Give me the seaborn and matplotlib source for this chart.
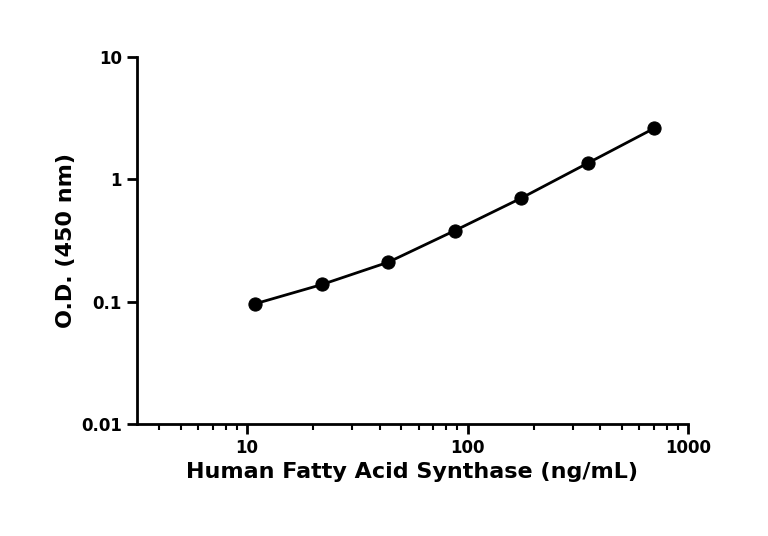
import matplotlib
matplotlib.use("Agg")
import matplotlib.pyplot as plt
import matplotlib.ticker as mticker
import seaborn as sns
import pandas as pd

# standard curve data
conc = [10.9, 21.9, 43.75, 87.5, 175, 350, 700]
od = [0.096, 0.138, 0.21, 0.38, 0.70, 1.35, 2.6]
df = pd.DataFrame({"conc": conc, "od": od})

sns.set_theme(style="ticks")
plt.rcParams["font.family"] = ["DejaVu Sans"]
plt.rcParams["font.weight"] = "bold"
plt.rcParams["text.color"] = "black"
plt.rcParams["axes.labelcolor"] = "black"
plt.rcParams["xtick.color"] = "black"
plt.rcParams["ytick.color"] = "black"
plt.rcParams["axes.edgecolor"] = "black"

fig = plt.figure(figsize=(7.68, 5.36), dpi=100)
ax = fig.add_axes([0.178, 0.209, 0.718, 0.685])

sns.lineplot(data=df, x="conc", y="od", color="black", linewidth=2, ax=ax)
sns.scatterplot(data=df, x="conc", y="od", color="black", s=90, edgecolor="black", ax=ax, zorder=3)

ax.set_xscale("log")
ax.set_yscale("log")
ax.set_xlim(10 ** 0.5, 1000)
ax.set_ylim(0.01, 10)
ax.set_xticks([10, 100, 1000])
ax.set_xticklabels(["10", "100", "1000"])
ax.set_yticks([0.01, 0.1, 1, 10])
ax.set_yticklabels(["0.01", "0.1", "1", "10"])
ax.xaxis.set_minor_locator(mticker.LogLocator(base=10, subs=range(2, 10)))
ax.yaxis.set_minor_locator(mticker.NullLocator())
ax.xaxis.set_minor_formatter(mticker.NullFormatter())

for s in ["top", "right"]:
    ax.spines[s].set_visible(False)
for s in ["left", "bottom"]:
    ax.spines[s].set_linewidth(2)
ax.tick_params(which="major", width=2, length=7, labelsize=12, colors="black")
ax.tick_params(which="minor", width=1.5, length=4, colors="black")
for lab in ax.get_xticklabels() + ax.get_yticklabels():
    lab.set_fontweight("bold")

ax.set_xlabel("Human Fatty Acid Synthase (ng/mL)", fontsize=16, fontweight="bold", color="black")
ax.set_ylabel("O.D. (450 nm)", fontsize=16, fontweight="bold", color="black")

fig.savefig("out.png", dpi=100)
